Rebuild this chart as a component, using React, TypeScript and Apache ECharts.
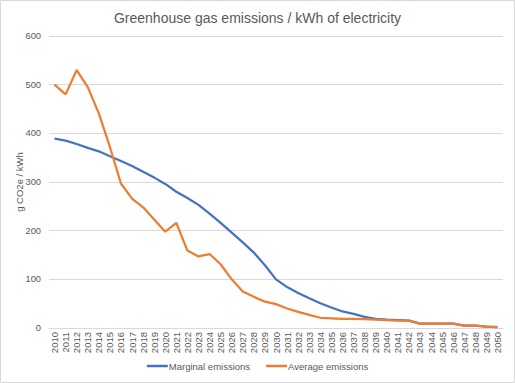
import React, { useEffect, useRef } from "react";
import * as echarts from "echarts";

const years: string[] = [];
for (let y = 2010; y <= 2050; y++) years.push(String(y));

const marginal = [
  389, 385, 378, 370, 363, 353, 343, 333, 321, 309, 296, 280, 267, 253, 235, 216,
  196, 176, 155, 129, 100, 84, 72, 61, 51, 42, 34, 29, 23, 19, 17, 16, 15, 9, 9, 9,
  9, 5, 5, 3, 2,
];
const average = [
  500, 480, 530, 495, 441, 372, 297, 266, 248, 223, 198, 216, 159, 147, 152, 131,
  100, 75, 64, 54, 49, 40, 33, 27, 21, 20, 19, 19, 18, 17, 16, 15, 15, 9, 9, 9, 9,
  5, 5, 3, 2,
];

const yTicks = { min: 0, max: 600, interval: 100 };

export default function App() {
  const ref = useRef<HTMLDivElement>(null);
  useEffect(() => {
    if (!ref.current) return;
    const chart = echarts.init(ref.current, undefined, { renderer: "svg" });
    const txt = "#595959";
    const font = "Liberation Sans, Arial, sans-serif";
    chart.setOption({
      animation: false,
      textStyle: { fontFamily: font },
      title: {
        text: "Greenhouse gas emissions / kWh of electricity",
        left: "center",
        top: 6,
        textStyle: { fontSize: 14, fontWeight: "normal", color: txt, fontFamily: font },
      },
      graphic: [
        {
          type: "rect",
          shape: { x: 0.5, y: 0.5, width: 514, height: 382 },
          style: { fill: "none", stroke: "#d9d9d9", lineWidth: 1 },
          silent: true,
        },
      ],
      grid: { left: 49, right: 12, top: 36, bottom: 55 },
      legend: {
        bottom: 7,
        left: "center",
        icon: "rect",
        itemWidth: 21,
        itemHeight: 2.5,
        itemGap: 16,
        textStyle: { fontSize: 9.5, color: txt, fontFamily: font, padding: [0, 0, 0, -4] },
        data: ["Marginal emissions", "Average emissions"],
      },
      xAxis: {
        type: "category",
        data: years,
        boundaryGap: true,
        axisLine: { show: true, lineStyle: { color: "#d9d9d9", width: 1 } },
        axisTick: { show: false },
        axisLabel: { rotate: 90, interval: 0, fontSize: 9.5, color: txt, margin: 4, fontFamily: font },
      },
      yAxis: {
        type: "value",
        min: yTicks.min,
        max: yTicks.max,
        interval: yTicks.interval,
        name: "g CO2e / kWh",
        nameLocation: "middle",
        nameGap: 25,
        nameMoveOverlap: false,
        nameTextStyle: { fontSize: 9.5, color: txt, fontFamily: font },
        axisLine: { show: false },
        axisTick: { show: false },
        axisLabel: { fontSize: 9.3, color: txt, margin: 8, fontFamily: font },
        splitLine: { lineStyle: { color: "#d9d9d9", width: 1 } },
      },
      series: [
        {
          name: "Marginal emissions",
          type: "line",
          data: marginal,
          showSymbol: false,
          symbol: "none",
          lineStyle: { color: "#4472C4", width: 2.25 },
          itemStyle: { color: "#4472C4" },
        },
        {
          name: "Average emissions",
          type: "line",
          data: average,
          showSymbol: false,
          symbol: "none",
          lineStyle: { color: "#ED7D31", width: 2.25 },
          itemStyle: { color: "#ED7D31" },
        },
      ],
    });
    return () => chart.dispose();
  }, []);
  return (
    <div
      ref={ref}
      style={{ position: "fixed", left: 0, top: 0, width: 515, height: 383, background: "#fff" }}
    />
  );
}
